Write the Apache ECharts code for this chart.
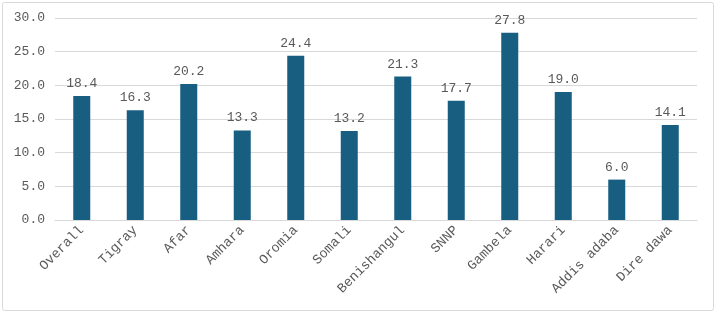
<!DOCTYPE html>
<html>
<head>
<meta charset="utf-8">
<script src="https://cdn.jsdelivr.net/npm/echarts@6/dist/echarts.min.js"></script>
<style>
  html, body { margin: 0; padding: 0; background: #fff; }
  #chart { width: 716px; height: 313px; }
</style>
</head>
<body>
<div id="chart"></div>
<script>
// 地区
const regions = ['Overall', 'Tigray', 'Afar', 'Amhara', 'Oromia', 'Somali', 'Benishangul', 'SNNP', 'Gambela', 'Harari', 'Addis adaba', 'Dire dawa']
// 数值
const values = [18.4, 16.3, 20.2, 13.3, 24.4, 13.2, 21.3, 17.7, 27.8, 19.0, 6.0, 14.1]
const yTicks = [0, 5, 10, 15, 20, 25, 30]

const font = '"Liberation Mono", "Courier New", monospace'
const chart = echarts.init(document.getElementById('chart'))
const option = {
  animation: false,
  backgroundColor: '#fff',
  graphic: [
    {
      type: 'rect',
      shape: { x: 2.5, y: 2.5, width: 711, height: 308, r: 2 },
      style: { fill: 'none', stroke: '#d9d9d9', lineWidth: 1 }
    }
  ],
  grid: { left: 55, right: 19, top: 18, bottom: 93 },
  xAxis: {
    type: 'category',
    data: regions,
    axisLine: { lineStyle: { color: '#d9d9d9' } },
    axisTick: { show: false },
    axisLabel: {
      rotate: 45,
      interval: 0,
      margin: 8,
      color: '#595959',
      fontFamily: font,
      fontSize: 13.5
    }
  },
  yAxis: {
    type: 'value',
    min: yTicks[0],
    max: yTicks[yTicks.length - 1],
    interval: 5,
    axisLine: { show: false },
    axisTick: { show: false },
    splitLine: { lineStyle: { color: '#d9d9d9' } },
    axisLabel: {
      color: '#595959',
      fontFamily: font,
      fontSize: 13,
      margin: 10,
      formatter: v => v.toFixed(1)
    }
  },
  series: [
    {
      type: 'bar',
      data: values,
      barWidth: 17,
      itemStyle: { color: '#175e80' },
      label: {
        show: true,
        position: 'top',
        distance: 6,
        color: '#595959',
        fontFamily: font,
        fontSize: 13,
        formatter: p => p.value.toFixed(1)
      }
    }
  ]
}
chart.setOption(option)
</script>
</body>
</html>
